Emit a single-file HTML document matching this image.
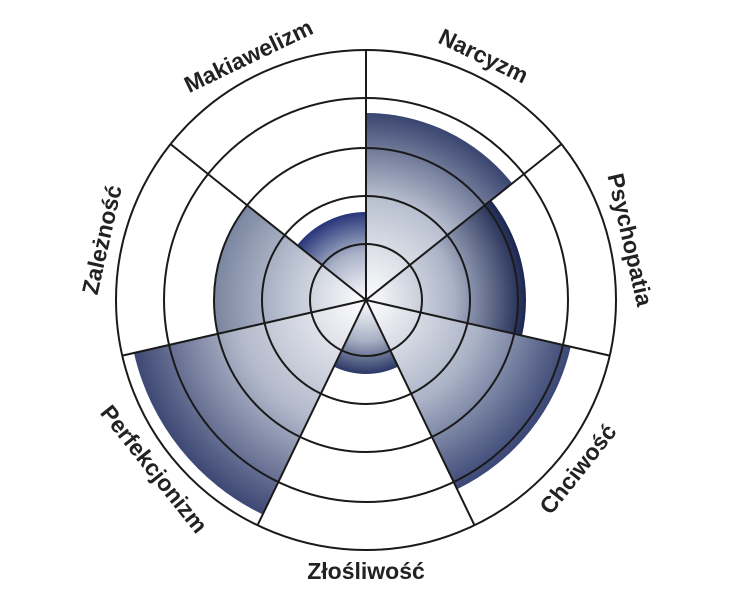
<!DOCTYPE html>
<html><head><meta charset="utf-8"><style>
html,body{margin:0;padding:0;background:#fff;}
svg{display:block}
text{font-family:"Liberation Sans",sans-serif;font-weight:bold;font-size:23px;fill:#222;}
</style></head><body>
<svg width="732" height="600" viewBox="0 0 732 600">
<defs>
<radialGradient id="g1" gradientUnits="userSpaceOnUse" cx="366" cy="300" r="187"><stop offset="0" stop-color="#fff"/><stop offset="0.55" stop-color="#b8bfcf"/><stop offset="1" stop-color="#3a4570"/></radialGradient>
<radialGradient id="g2" gradientUnits="userSpaceOnUse" cx="366" cy="300" r="160"><stop offset="0" stop-color="#fff"/><stop offset="0.55" stop-color="#aab2c6"/><stop offset="1" stop-color="#1c2750"/></radialGradient>
<radialGradient id="g3" gradientUnits="userSpaceOnUse" cx="366" cy="300" r="210"><stop offset="0" stop-color="#fff"/><stop offset="0.55" stop-color="#aab2c6"/><stop offset="1" stop-color="#3b4775"/></radialGradient>
<radialGradient id="g4" gradientUnits="userSpaceOnUse" cx="366" cy="300" r="74"><stop offset="0" stop-color="#fff"/><stop offset="0.55" stop-color="#a9b1c6"/><stop offset="1" stop-color="#2a3765"/></radialGradient>
<radialGradient id="g5" gradientUnits="userSpaceOnUse" cx="366" cy="300" r="238"><stop offset="0" stop-color="#fff"/><stop offset="0.55" stop-color="#b3b9cb"/><stop offset="1" stop-color="#3d4874"/></radialGradient>
<radialGradient id="g6" gradientUnits="userSpaceOnUse" cx="366" cy="300" r="152"><stop offset="0" stop-color="#fff"/><stop offset="0.55" stop-color="#b8bfcf"/><stop offset="1" stop-color="#7a86a0"/></radialGradient>
<radialGradient id="g7" gradientUnits="userSpaceOnUse" cx="366" cy="300" r="88"><stop offset="0" stop-color="#fff"/><stop offset="0.55" stop-color="#a8b0c6"/><stop offset="1" stop-color="#26357a"/></radialGradient>
</defs>
<g id="sectors"></g>
<g fill="none" stroke="#1a1a1a" stroke-width="2">
<circle cx="366" cy="300" r="250"/><circle cx="366" cy="300" r="202"/><circle cx="366" cy="300" r="152"/><circle cx="366" cy="300" r="104"/><circle cx="366" cy="300" r="56"/>
<g id="spokes"></g>
</g>
<g id="labels"></g>
</svg>
<script>
var cx=366,cy=300,ns="http://www.w3.org/2000/svg";
function pt(r,a){a=a*Math.PI/180;return [cx+r*Math.sin(a),cy-r*Math.cos(a)];}
var step=360/7, radii=[187,160,210,74,238,152,88];
var S=document.getElementById('sectors');
for(var i=0;i<7;i++){var a0=i*step,a1=(i+1)*step,r=radii[i],p0=pt(r,a0),p1=pt(r,a1);
var p=document.createElementNS(ns,'path');
p.setAttribute('d','M'+cx+','+cy+' L'+p0[0]+','+p0[1]+' A'+r+','+r+' 0 0 1 '+p1[0]+','+p1[1]+' Z');
p.setAttribute('fill','url(#g'+(i+1)+')');S.appendChild(p);}
var SP=document.getElementById('spokes');
for(var i=0;i<7;i++){var q=pt(250,i*step);var l=document.createElementNS(ns,'line');
l.setAttribute('x1',cx);l.setAttribute('y1',cy);l.setAttribute('x2',q[0]);l.setAttribute('y2',q[1]);SP.appendChild(l);}
var names=["Narcyzm","Psychopatia","Chciwość","Złośliwość","Perfekcjonizm","Zależność","Makiawelizm"];
var L=document.getElementById('labels');
for(var i=0;i<7;i++){var a=(i+0.5)*step;var q=pt(271,a);var rot=(a>90&&a<270)?a-180:a;
var t=document.createElementNS(ns,'text');t.setAttribute('x',q[0]);t.setAttribute('y',q[1]);
t.setAttribute('text-anchor','middle');t.setAttribute('dominant-baseline','central');
t.setAttribute('transform','rotate('+rot+' '+q[0]+' '+q[1]+')');t.textContent=names[i];L.appendChild(t);}
</script>
</body></html>
